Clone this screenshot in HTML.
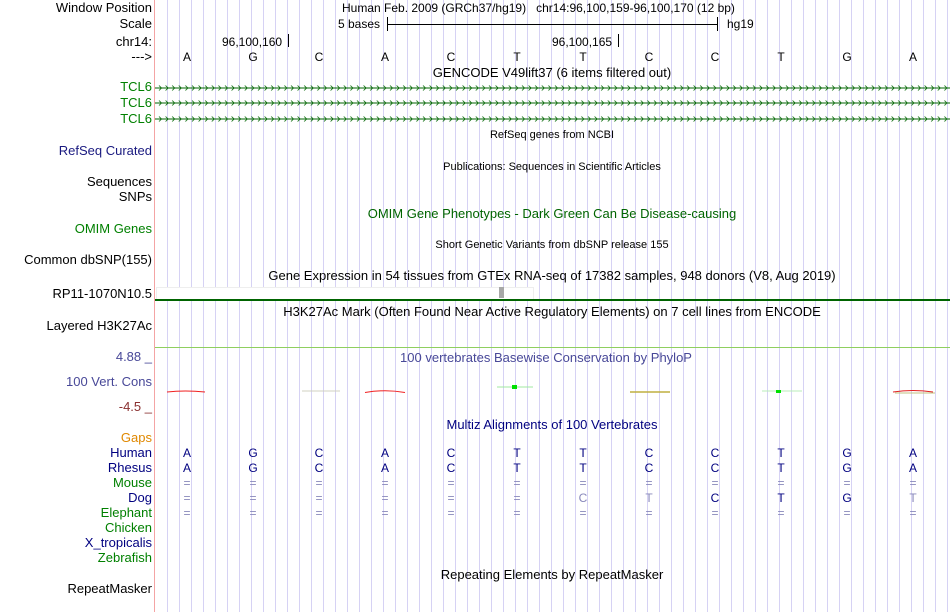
<!DOCTYPE html>
<html><head><meta charset="utf-8"><style>
body{margin:0;width:950px;height:612px;background:#fff;position:relative;overflow:hidden;font-family:"Liberation Sans",sans-serif;font-size:13px;}
.t{position:absolute;white-space:nowrap;line-height:14px;font-size:12px;}
.l{position:absolute;right:798px;white-space:nowrap;line-height:14px;text-align:right;}
.c{position:absolute;white-space:nowrap;line-height:14px;transform:translateX(-50%);}
.b{font-size:12px;}
.s{font-size:11px;}
#grid{position:absolute;left:156px;top:0;width:794px;height:612px;background:repeating-linear-gradient(to right,transparent 0 11px,#d6d2f4 11px 12px);}
#red{position:absolute;left:154px;top:0;width:1px;height:612px;background:#f4a4a4;}
.nv{color:#000080}.gr{color:#006400}.g2{color:#008000}.pb{color:#484898}.fa{color:#8888bb}
</style></head><body>
<div id="grid"></div><div id="red"></div>

<div class="l" style="top:1px">Window Position</div>
<div class="l" style="top:17px">Scale</div>
<div class="l" style="top:35px">chr14:</div>
<div class="l" style="top:50px">---&gt;</div>
<div class="l g2" style="top:80px">TCL6</div>
<div class="l g2" style="top:96px">TCL6</div>
<div class="l g2" style="top:112px">TCL6</div>
<div class="l" style="top:144px;color:#1a1a80">RefSeq Curated</div>
<div class="l" style="top:175px">Sequences</div>
<div class="l" style="top:190px">SNPs</div>
<div class="l g2" style="top:222px">OMIM Genes</div>
<div class="l" style="top:253px">Common dbSNP(155)</div>
<div class="l" style="top:287px">RP11-1070N10.5</div>
<div class="l" style="top:319px">Layered H3K27Ac</div>
<div class="l pb" style="top:350px">4.88 _</div>
<div class="l pb" style="top:375px">100 Vert. Cons</div>
<div class="l" style="top:400px;color:#8a3030">-4.5 _</div>
<div class="l" style="top:431px;color:#e08800">Gaps</div>
<div class="l nv" style="top:446px">Human</div>
<div class="l nv" style="top:461px">Rhesus</div>
<div class="l g2" style="top:476px">Mouse</div>
<div class="l nv" style="top:491px">Dog</div>
<div class="l g2" style="top:506px">Elephant</div>
<div class="l g2" style="top:521px">Chicken</div>
<div class="l nv" style="top:536px">X_tropicalis</div>
<div class="l g2" style="top:551px">Zebrafish</div>
<div class="l" style="top:582px">RepeatMasker</div>

<div class="t" style="left:342px;top:1px">Human Feb. 2009 (GRCh37/hg19) &nbsp; chr14:96,100,159-96,100,170 (12 bp)</div>
<div class="t" style="left:338px;top:17px">5 bases</div>
<div style="position:absolute;left:387px;top:24px;width:330px;height:1px;background:#000"></div>
<div style="position:absolute;left:387px;top:17px;width:1px;height:14px;background:#000"></div>
<div style="position:absolute;left:717px;top:17px;width:1px;height:14px;background:#000"></div>
<div class="t" style="left:727px;top:17px">hg19</div>
<div class="t" style="left:222px;top:35px">96,100,160</div>
<div style="position:absolute;left:288px;top:34px;width:1px;height:13px;background:#000"></div>
<div class="t" style="left:552px;top:35px">96,100,165</div>
<div style="position:absolute;left:618px;top:34px;width:1px;height:13px;background:#000"></div>

<div class="b">
<div class="c" style="left:187px;top:50px">A</div><div class="c" style="left:253px;top:50px">G</div><div class="c" style="left:319px;top:50px">C</div><div class="c" style="left:385px;top:50px">A</div><div class="c" style="left:451px;top:50px">C</div><div class="c" style="left:517px;top:50px">T</div><div class="c" style="left:583px;top:50px">T</div><div class="c" style="left:649px;top:50px">C</div><div class="c" style="left:715px;top:50px">C</div><div class="c" style="left:781px;top:50px">T</div><div class="c" style="left:847px;top:50px">G</div><div class="c" style="left:913px;top:50px">A</div>
</div>

<div class="c" style="left:552px;top:66px">GENCODE V49lift37 (6 items filtered out)</div>
<svg style="position:absolute;left:155px;top:80px" width="795" height="46">
<defs><pattern id="ch" x="3" y="0" width="6.6" height="46" patternUnits="userSpaceOnUse">
<path d="M1,5.5 L3.5,8 L1,10.5 M1,20.5 L3.5,23 L1,25.5 M1,36.5 L3.5,39 L1,41.5" stroke="#006400" fill="none" stroke-width="0.8"/></pattern></defs>
<rect x="0" y="7.5" width="795" height="1" fill="#006400"/><rect x="0" y="22.5" width="795" height="1" fill="#006400"/><rect x="0" y="38.5" width="795" height="1" fill="#006400"/>
<rect x="0" y="0" width="795" height="46" fill="url(#ch)"/>
</svg>
<div class="c s" style="left:552px;top:128px">RefSeq genes from NCBI</div>
<div class="c s" style="left:552px;top:160px">Publications: Sequences in Scientific Articles</div>
<div class="c gr" style="left:552px;top:207px">OMIM Gene Phenotypes - Dark Green Can Be Disease-causing</div>
<div class="c s" style="left:552px;top:238px">Short Genetic Variants from dbSNP release 155</div>
<div class="c" style="left:552px;top:269px">Gene Expression in 54 tissues from GTEx RNA-seq of 17382 samples, 948 donors (V8, Aug 2019)</div>
<div style="position:absolute;left:156px;top:287px;width:376px;height:11px;background:#fff;border:1px solid #eee"></div>
<div style="position:absolute;left:499px;top:287px;width:5px;height:11px;background:#a8a8a8"></div>
<div style="position:absolute;left:155px;top:299px;width:795px;height:2px;background:#006400"></div>
<div class="c" style="left:552px;top:305px">H3K27Ac Mark (Often Found Near Active Regulatory Elements) on 7 cell lines from ENCODE</div>
<div style="position:absolute;left:155px;top:347px;width:795px;height:1px;background:#8fcf5f"></div>
<div class="c pb" style="left:546px;top:351px">100 vertebrates Basewise Conservation by PhyloP</div>
<svg style="position:absolute;left:155px;top:380px" width="795" height="20">
<path d="M12,12 Q30,10 50,12" stroke="#f02020" fill="none" stroke-width="1"/>
<path d="M147,11 L185,11" stroke="#d0d0c0" stroke-width="1"/>
<path d="M210,12.5 Q230,9 250,12.5" stroke="#f02020" fill="none" stroke-width="1"/>
<path d="M342,7 L378,7" stroke="#a0e8a0" stroke-width="1"/><rect x="357" y="5" width="5" height="4" fill="#00e000"/>
<path d="M475,11.5 L515,11.5 M475,12.5 L515,12.5" stroke="#c0b040" stroke-width="0.8"/>
<path d="M607,11 L647,11" stroke="#b8ecb8" stroke-width="1"/><rect x="621" y="10" width="5" height="3" fill="#00e000"/>
<path d="M738,12 Q758,9 778,12" stroke="#e02020" fill="none" stroke-width="1"/><path d="M740,13 L780,13" stroke="#c0c080" stroke-width="1"/>
</svg>
<div class="c nv" style="left:552px;top:418px">Multiz Alignments of 100 Vertebrates</div>

<div class="nv b">
<div class="c" style="left:187px;top:446px">A</div><div class="c" style="left:253px;top:446px">G</div><div class="c" style="left:319px;top:446px">C</div><div class="c" style="left:385px;top:446px">A</div><div class="c" style="left:451px;top:446px">C</div><div class="c" style="left:517px;top:446px">T</div><div class="c" style="left:583px;top:446px">T</div><div class="c" style="left:649px;top:446px">C</div><div class="c" style="left:715px;top:446px">C</div><div class="c" style="left:781px;top:446px">T</div><div class="c" style="left:847px;top:446px">G</div><div class="c" style="left:913px;top:446px">A</div>
<div class="c" style="left:187px;top:461px">A</div><div class="c" style="left:253px;top:461px">G</div><div class="c" style="left:319px;top:461px">C</div><div class="c" style="left:385px;top:461px">A</div><div class="c" style="left:451px;top:461px">C</div><div class="c" style="left:517px;top:461px">T</div><div class="c" style="left:583px;top:461px">T</div><div class="c" style="left:649px;top:461px">C</div><div class="c" style="left:715px;top:461px">C</div><div class="c" style="left:781px;top:461px">T</div><div class="c" style="left:847px;top:461px">G</div><div class="c" style="left:913px;top:461px">A</div>
</div>
<div class="fa b">
<div class="c" style="left:187px;top:476px">=</div><div class="c" style="left:253px;top:476px">=</div><div class="c" style="left:319px;top:476px">=</div><div class="c" style="left:385px;top:476px">=</div><div class="c" style="left:451px;top:476px">=</div><div class="c" style="left:517px;top:476px">=</div><div class="c" style="left:583px;top:476px">=</div><div class="c" style="left:649px;top:476px">=</div><div class="c" style="left:715px;top:476px">=</div><div class="c" style="left:781px;top:476px">=</div><div class="c" style="left:847px;top:476px">=</div><div class="c" style="left:913px;top:476px">=</div>
<div class="c" style="left:187px;top:491px">=</div><div class="c" style="left:253px;top:491px">=</div><div class="c" style="left:319px;top:491px">=</div><div class="c" style="left:385px;top:491px">=</div><div class="c" style="left:451px;top:491px">=</div><div class="c" style="left:517px;top:491px">=</div><div class="c" style="left:583px;top:491px">C</div><div class="c" style="left:649px;top:491px">T</div><div class="c nv" style="left:715px;top:491px">C</div><div class="c nv" style="left:781px;top:491px">T</div><div class="c nv" style="left:847px;top:491px">G</div><div class="c" style="left:913px;top:491px">T</div>
<div class="c" style="left:187px;top:506px">=</div><div class="c" style="left:253px;top:506px">=</div><div class="c" style="left:319px;top:506px">=</div><div class="c" style="left:385px;top:506px">=</div><div class="c" style="left:451px;top:506px">=</div><div class="c" style="left:517px;top:506px">=</div><div class="c" style="left:583px;top:506px">=</div><div class="c" style="left:649px;top:506px">=</div><div class="c" style="left:715px;top:506px">=</div><div class="c" style="left:781px;top:506px">=</div><div class="c" style="left:847px;top:506px">=</div><div class="c" style="left:913px;top:506px">=</div>
</div>
<div class="c" style="left:552px;top:568px">Repeating Elements by RepeatMasker</div>
</body></html>
